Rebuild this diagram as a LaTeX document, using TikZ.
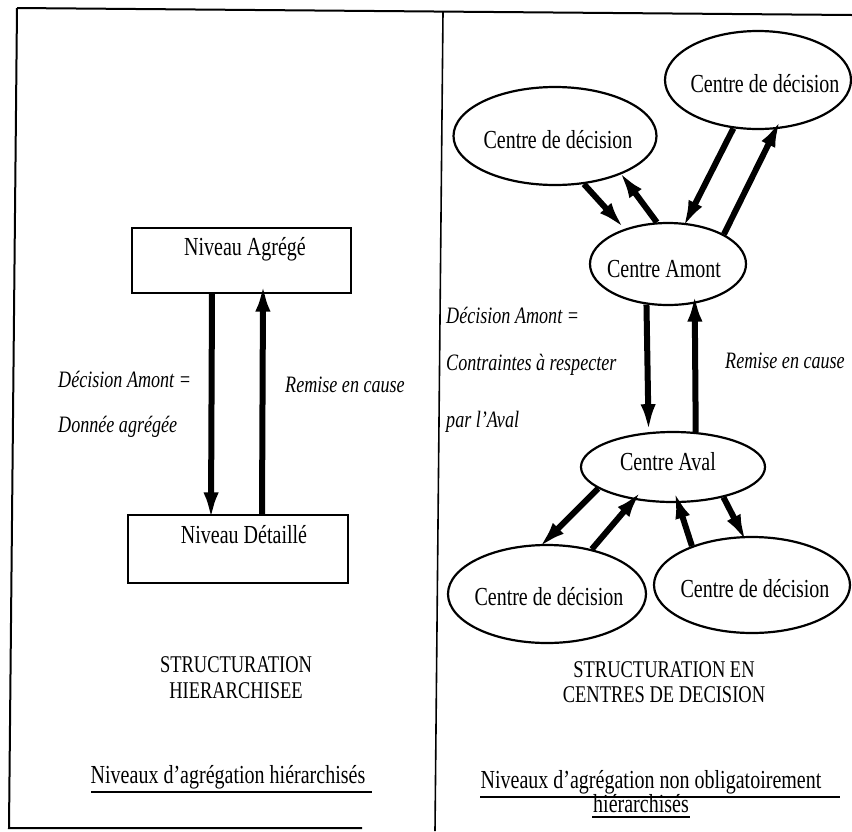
\documentclass[tikz,border=0pt]{standalone}
\usepackage{fontspec}
\setmainfont[FakeStretch=0.77]{Liberation Serif}
\usetikzlibrary{shapes.geometric,arrows.meta,calc}
\begin{document}
\begin{tikzpicture}[x=1pt,y=-1pt,
  frame/.style={line width=2pt},
  divider/.style={line width=1.6pt},
  boxnode/.style={draw,line width=1.1pt,inner sep=0pt},
  ctr/.style={ellipse,draw,line width=2.2pt,inner sep=0pt},
  txt/.style={inner sep=0pt,anchor=base,font=\fontsize{26}{30}\selectfont},
  itl/.style={inner sep=0pt,anchor=base west,font=\fontsize{23.5}{28}\selectfont\itshape},
  caps/.style={inner sep=0pt,anchor=base,font=\fontsize{24}{28}\selectfont},
  uline/.style={line width=2pt},
  arr/.style={line width=6pt,-{Latex[length=28pt,width=15pt]}}
]
\useasboundingbox (0,0) rectangle (852,831);
\fill[white] (0,0) rectangle (852,831);

% frame
\draw[frame] (17,8) -- (852,15);
\draw[frame] (17,8) -- (9,828) -- (362,828);
\draw[divider] (443,12) -- (435,831);

% ---------------- left panel ----------------
\node[boxnode,minimum width=219pt,minimum height=65pt] (agg) at (241.5,260.5) {};
\node[txt] (aggT) at (245,255) {Niveau Agrégé};
\node[boxnode,minimum width=220pt,minimum height=68pt] (det) at (238,549) {};
\node[txt] (detT) at (244,543) {Niveau Détaillé};

\draw[arr,shorten >=-6pt] ($(agg.south)+(-29.5,0)$) -- ($(det.north)+(-27,0)$);
\draw[arr,shorten >=-10pt] ($(det.north)+(24,0)$) -- ($(agg.south)+(21.5,0)$);

\node[itl] (lDA) at (58,387) {Décision Amont =};
\node[itl] (lDon) at (58,432) {Donnée agrégée};
\node[itl] (lRem) at (285,392) {Remise en cause};

\node[caps] (lS1) at (236,672) {STRUCTURATION};
\node[caps] (lS2) at (236,698) {HIERARCHISEE};
\node[txt] (lTitle) at (228,783) {Niveaux d’agrégation hiérarchisés};
\draw[uline] (91,792) -- (372,792);

% ---------------- right panel ----------------
\node[ctr,minimum width=203pt,minimum height=98pt] (D1) at (555,136) {};
\node[txt] (D1T) at (558,148) {Centre de décision};
\node[ctr,minimum width=186pt,minimum height=98pt] (D2) at (758,80) {};
\node[txt] (D2T) at (765,92) {Centre de décision};
\node[ctr,minimum width=156pt,minimum height=82pt] (amont) at (668,264) {};
\node[txt] (amontT) at (664,277) {Centre Amont};
\node[ctr,minimum width=184pt,minimum height=70pt] (aval) at (673,467) {};
\node[txt] (avalT) at (668,470) {Centre Aval};
\node[ctr,minimum width=198pt,minimum height=98pt] (D3) at (547,594) {};
\node[txt] (D3T) at (549,605) {Centre de décision};
\node[ctr,minimum width=196pt,minimum height=96pt] (D4) at (752,585) {};
\node[txt] (D4T) at (755,597) {Centre de décision};

% arrows top
\draw[arr] (D1.-59.3) -- (amont.141.5);
\draw[arr,shorten >=-4pt] (amont.105.2) -- (D1.-30);
\draw[arr,shorten >=-6pt] (D2.-117.9) -- (amont.67);
\draw[arr,shorten >=-11pt] (amont.28.7) -- (D2.-70.6);
% amont - aval
\draw[arr] (amont.-118) -- (aval.125.8);
\draw[arr,shorten >=-10pt] (aval.57.8) -- (amont.-56.1);
% bottom
\draw[arr,shorten >=-6pt] (aval.-164.5) -- (D3.95.8);
\draw[arr,shorten >=-12pt] (D3.45.7) -- (aval.-140.1);
\draw[arr,shorten >=-13pt] (D4.147) -- (aval.-82.1);
\draw[arr,shorten >=-7pt] (aval.-31.1) -- (D4.100.7);

\node[itl] (rDA) at (446,323) {Décision Amont =};
\node[itl] (rCont) at (446,370) {Contraintes à respecter};
\node[itl] (rPar) at (446,427) {par l’Aval};
\node[itl] (rRem) at (725,368) {Remise en cause};

\node[caps] (rS1) at (664,677) {STRUCTURATION EN};
\node[caps] (rS2) at (664,702) {CENTRES DE DECISION};
\node[txt] (rTitle) at (651,788) {Niveaux d’agrégation non obligatoirement};
\draw[uline] (480,797) -- (840,797);
\node[txt] (rTitle2) at (641,812) {hiérarchisés};
\draw[uline] (592,817) -- (690,817);
\end{tikzpicture}
\end{document}
